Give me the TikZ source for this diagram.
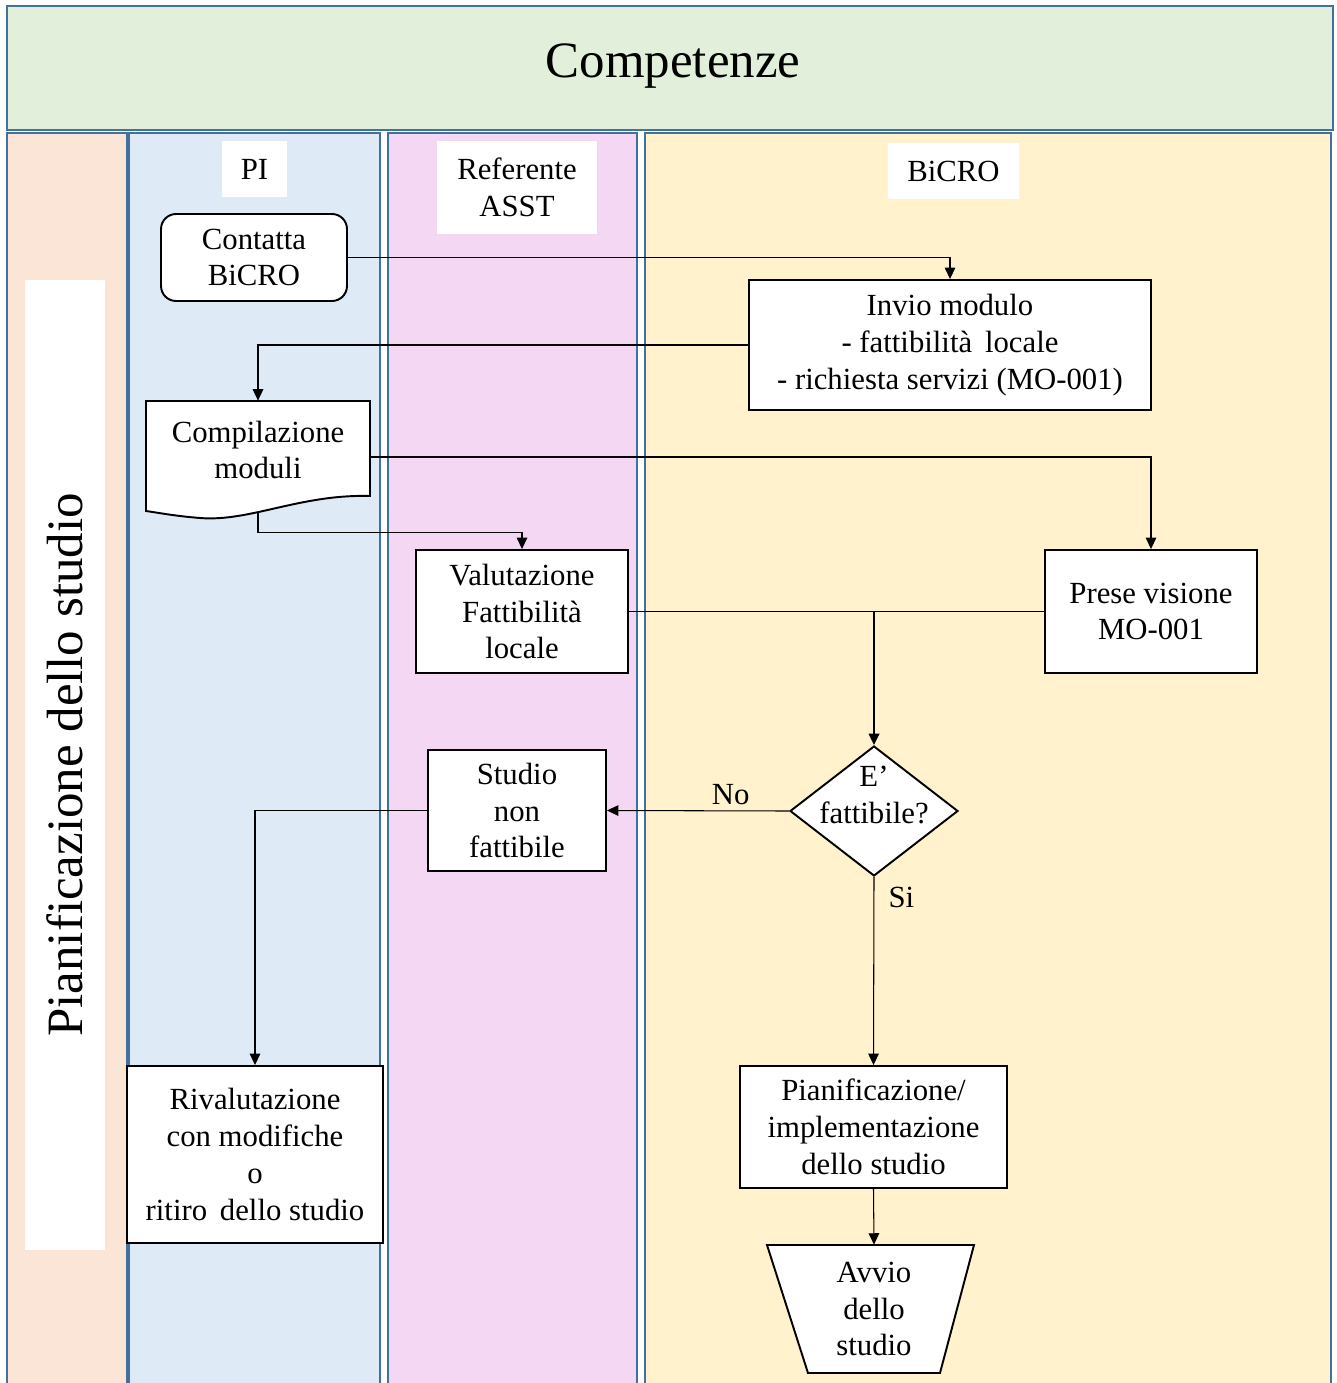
\documentclass[tikz,border=0pt]{standalone}
\usepackage{fontspec}
\setmainfont{Liberation Serif}
\usetikzlibrary{arrows.meta,shapes.geometric}

\definecolor{lanebd}{HTML}{41719C}
\definecolor{titlefill}{HTML}{E2EFDA}
\definecolor{phasefill}{HTML}{FBE5D6}
\definecolor{pifill}{HTML}{DEEBF7}
\definecolor{asstfill}{HTML}{F3D7F3}
\definecolor{bicrofill}{HTML}{FFF2CC}

\tikzset{
    >={Triangle[length=6.5pt,width=6pt]},
    lane/.style={draw=lanebd, line width=1.1pt},
    lanelabel/.style={fill=white, align=center, inner sep=0pt},
    stepbox/.style={draw, fill=white, line width=1.1pt, align=center, inner sep=2pt},
    textonly/.style={align=center, inner sep=0pt},
    decision/.style={diamond, draw, fill=white, line width=1.1pt, inner sep=0pt,
        minimum width=3.36cm, minimum height=2.6cm},
    flow/.style={->, line width=0.6pt},
    bigfont/.style={font=\fontsize{29}{34}\selectfont},
}

\begin{document}
\begin{tikzpicture}[x=0.02cm, y=-0.02cm, font=\fontsize{17.5}{21}\selectfont]

    \clip (0,0) rectangle (1337,1383);

    % Header
    \filldraw[lane, fill=titlefill] (7,6) rectangle (1333,130);
    \node[bigfont] (title) at (673,66) {Competenze};

    % Lanes
    \filldraw[lane, fill=phasefill] (7,133) rectangle (127,1395);
    \filldraw[lane, fill=pifill] (129,133) rectangle (380,1395);
    \filldraw[lane, fill=asstfill] (388,133) rectangle (637,1395);
    \filldraw[lane, fill=bicrofill] (645,133) rectangle (1331,1395);

    % Lane labels
    \node[lanelabel, bigfont, rotate=90, minimum width=19.4cm, minimum height=1.6cm] (phase) at (65,765) {Pianificazione dello studio};
    \node[lanelabel, minimum width=1.3cm, minimum height=1.12cm] (pi) at (254.5,169) {PI};
    \node[lanelabel, minimum width=3.2cm, minimum height=1.86cm] (asst) at (517,187.5) {Referente\\ASST};
    \node[lanelabel, minimum width=2.62cm, minimum height=1.12cm] (bicro) at (953.5,171) {BiCRO};

    % Steps
    \node[stepbox, rounded corners=0.3cm, minimum width=3.72cm, minimum height=1.74cm] (contatta) at (254,257.5) {Contatta\\BiCRO};
    \node[stepbox, minimum width=8.04cm, minimum height=2.6cm] (invio) at (950,345) {Invio modulo\\- fattibilità\, locale\\- richiesta servizi (MO-001)};

    \filldraw[fill=white, line width=1.1pt] (146,401) -- (370,401) -- (370,496)
        .. controls (300,494) and (250,522) .. (200,518)
        .. controls (175,516) and (160,513) .. (146,511) -- cycle;
    \node[textonly, minimum width=4.48cm, minimum height=2.24cm,
        label={[textonly, yshift=0.14cm]center:{Compilazione\\moduli}}] (comp) at (258,457) {};

    \node[stepbox, minimum width=4.24cm, minimum height=2.46cm] (val) at (522,611.5) {Valutazione\\Fattibilità\\locale};
    \node[stepbox, minimum width=4.24cm, minimum height=2.46cm] (prese) at (1151,611.5) {Prese visione\\MO-001};

    \node[decision, label={[textonly, yshift=0.32cm]center:{E’\\fattibile?}}] (dec) at (874,811) {};
    \node[stepbox, minimum width=3.56cm, minimum height=2.42cm] (nonf) at (517,810.5) {Studio\\non\\fattibile};

    \node[stepbox, minimum width=5.12cm, minimum height=3.54cm] (rival) at (255,1154.5) {Rivalutazione\\con modifiche\\o\\ritiro\, dello studio};
    \node[stepbox, minimum width=5.34cm, minimum height=2.44cm] (pianif) at (873.5,1127) {Pianificazione/\\implementazione\\dello studio};

    \filldraw[fill=white, line width=1.1pt] (767,1245) -- (974,1245) -- (940,1373) -- (808,1373) -- cycle;
    \node[textonly, minimum width=2.64cm, minimum height=2.56cm] (avvio) at (874,1309) {Avvio\\dello\\studio};

    % Connectors
    \draw[flow] (contatta.east) -| (invio.north);
    \draw[flow] (invio.west) -| (comp.north);
    \draw[flow] (comp.east) -| (prese.north);
    \draw[flow] (comp.south) -- ++(0,19) -| (val.north);
    \draw[line width=0.6pt] (val.east) -- (prese.west);
    \draw[flow, line width=1.1pt] (val.east -| dec.north) -- (dec.north);
    \draw[flow] (dec.west) -- node[above, pos=0.32, inner sep=3pt] {No} (nonf.east);
    \draw[flow] (dec.south) -- node[right, pos=0.11, inner sep=8pt] {Si} (pianif.north);
    \draw[flow] (nonf.west) -| (rival.north);
    \draw[flow] (pianif.south) -- (avvio.north);

\end{tikzpicture}
\end{document}
